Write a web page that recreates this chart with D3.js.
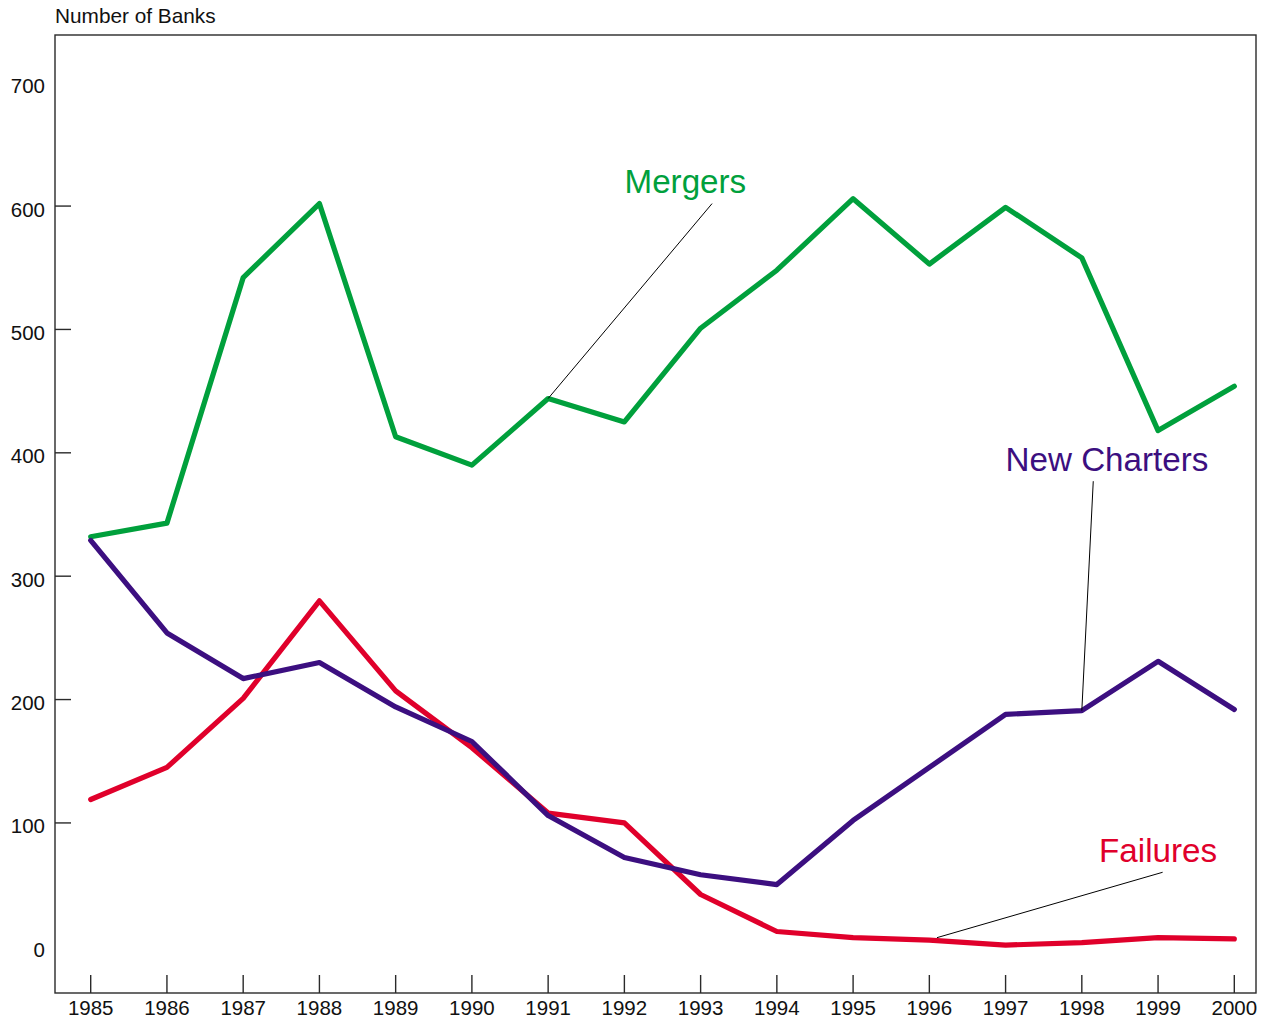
<!DOCTYPE html>
<html>
<head>
<meta charset="utf-8">
<script src="https://cdn.jsdelivr.net/npm/d3@7"></script>
<style>
  html, body { margin: 0; padding: 0; background: #fff; }
  svg { display: block; font-family: "Liberation Sans", Arial, sans-serif; }
</style>
</head>
<body>
<svg id="chart" width="1275" height="1021"></svg>
<script>
const years = [1985,1986,1987,1988,1989,1990,1991,1992,1993,1994,1995,1996,1997,1998,1999,2000];
const mergers = [332,343,542,602,413,390,444,425,501,548,606,553,599,558,418,454];
const newCharters = [329,254,217,230,194,166,106,72,58,50,102,145,188,191,231,192];
const failures = [119,145,201,280,207,161,108,100,42,12,7,5,1,3,7,6];
const yTickLabels = [0,100,200,300,400,500,600,700];
const yTickMarks = [100,200,300,400,500,600];
const yTitle = "Number of Banks";

const seriesNames = ["Mergers","New Charters","Failures"];
const seriesColors = ["#00a03c","#3c0f80","#e0002b"];
// label anchor (year, value), leader start (year, value), leader end (year, value)
const labelPos = [[1992.80, 611],[1998.33, 385],[1999.0, 68]];
const leaderStart = [[1993.15, 602],[1998.15, 377],[1999.06, 60]];
const leaderEnd = [[1991, 444],[1998, 191],[1996.1, 7]];

const svg = d3.select("#chart");
const L = 55, R = 1256, T = 35, B = 993;
const x = d3.scaleLinear().domain([1985, 2000]).range([90.7, 1234.3]);
const y = d3.scaleLinear().domain([0, 700]).range([946.3, 82.7]);

// frame
svg.append("rect").attr("x", L).attr("y", T).attr("width", R - L).attr("height", B - T)
  .attr("fill", "none").attr("stroke", "#2a2a2a").attr("stroke-width", 1.4);

// y ticks
svg.append("g").selectAll("line").data(yTickMarks).join("line")
  .attr("x1", L).attr("x2", L + 16)
  .attr("y1", d => y(d)).attr("y2", d => y(d))
  .attr("stroke", "#2a2a2a").attr("stroke-width", 1.4);
svg.append("g").selectAll("text").data(yTickLabels).join("text")
  .attr("x", 45).attr("y", d => y(d) + 10.5)
  .attr("text-anchor", "end").attr("font-size", 20.5).attr("fill", "#111")
  .text(d => d);

// x ticks
svg.append("g").selectAll("line").data(years).join("line")
  .attr("x1", d => x(d)).attr("x2", d => x(d))
  .attr("y1", B).attr("y2", B - 18)
  .attr("stroke", "#2a2a2a").attr("stroke-width", 1.4);
svg.append("g").selectAll("text").data(years).join("text")
  .attr("x", d => x(d)).attr("y", 1015)
  .attr("text-anchor", "middle").attr("font-size", 20.5).attr("fill", "#111")
  .text(d => d);

// title
svg.append("text").attr("x", 55).attr("y", 23).attr("font-size", 20.8).attr("fill", "#111").text(yTitle);

// lines
const data = [mergers, newCharters, failures];
const line = d3.line().x((d, i) => x(years[i])).y(d => y(d));
[0, 2, 1].forEach(k => {
  svg.append("path").attr("d", line(data[k]))
    .attr("fill", "none").attr("stroke", seriesColors[k])
    .attr("stroke-width", 5.2).attr("stroke-linejoin", "round").attr("stroke-linecap", "round");
});

// leaders and labels
seriesNames.forEach((name, k) => {
  svg.append("line")
    .attr("x1", x(leaderStart[k][0])).attr("y1", y(leaderStart[k][1]))
    .attr("x2", x(leaderEnd[k][0])).attr("y2", y(leaderEnd[k][1]))
    .attr("stroke", "#000").attr("stroke-width", 1);
  svg.append("text")
    .attr("x", x(labelPos[k][0])).attr("y", y(labelPos[k][1]))
    .attr("text-anchor", "middle").attr("font-size", 33.2).attr("fill", seriesColors[k])
    .text(name);
});
</script>
</body>
</html>
